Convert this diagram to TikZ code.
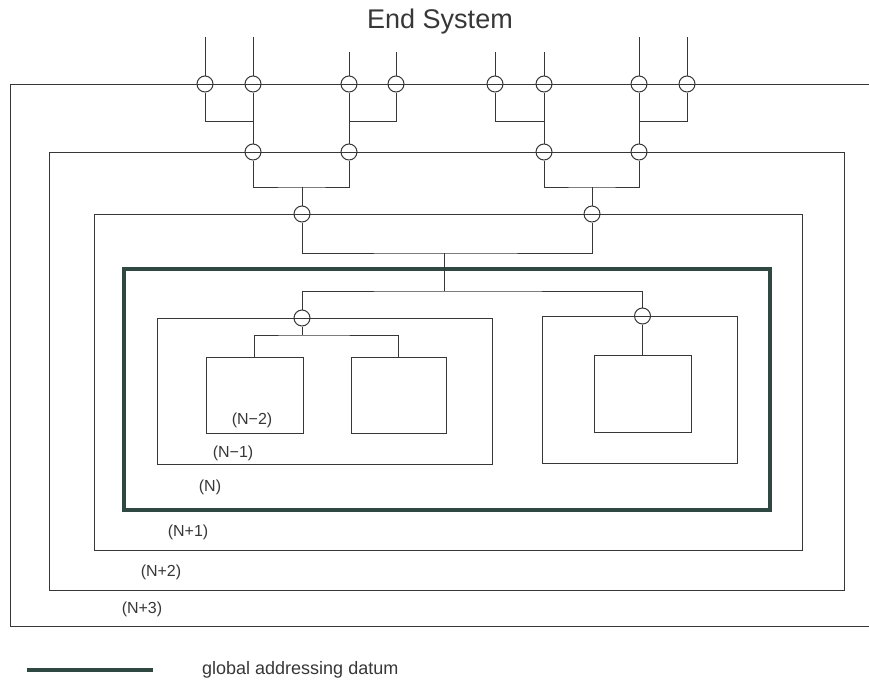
\documentclass[tikz,border=0pt]{standalone}
\usepackage{fontspec}
\setmainfont{Liberation Sans}
\usepackage{xcolor}
\usepackage{tikz}
\usetikzlibrary{positioning}

\definecolor{ink}{RGB}{55,55,55}
\definecolor{datum}{RGB}{47,72,66}

\begin{document}
\begin{tikzpicture}[
        x=1pt, y=-1pt,
        line/.style={draw=ink, line width=1pt},
        layer/.style={rectangle, draw=ink, line width=1pt, inner sep=0pt},
        global/.style={draw=datum, line width=4pt},
        port/.style={circle, draw=ink, line width=1pt, inner sep=0pt, minimum size=16pt},
        lbl/.style={font=\fontsize{16}{18}\selectfont, text=ink, inner sep=0pt},
    ]
    \useasboundingbox (0,0) rectangle (869,680);

    % === LAYERS ===
    % (N+3), open on the right
    \draw[line] (869,84) -- (10,84) -- (10,626) -- (869,626);
    \node[layer, minimum width=795, minimum height=438] (np2) at (446.5,371) {};
    \node[layer, minimum width=708, minimum height=336] (np1) at (448,382) {};
    \node[layer, draw=datum, line width=4pt, minimum width=646, minimum height=241] (nn) at (447,389.5) {};
    \node[layer, minimum width=335, minimum height=146] (nm1a) at (324.5,391) {};
    \node[layer, minimum width=195, minimum height=147] (nm1b) at (639.5,389.5) {};

    % (N-2) entities
    \node[layer, minimum width=97, minimum height=76] (ba) at (254.5,395) {};
    \node[layer, minimum width=95, minimum height=76] (bb) at (398.5,395) {};
    \node[layer, minimum width=97, minimum height=77] (bc) at (642.5,393.5) {};

    % === PORTS ===
    % top row
    \foreach \n/\x in {t1/205, t2/253, t3/349, t4/396, t5/495, t6/544, t7/639, t8/687}
        \node[port] (\n) at (\x,84) {};
    % second row
    \foreach \n/\x in {m1/253, m2/349, m3/544, m4/639}
        \node[port] (\n) at (\x,152) {};
    % third row
    \node[port] (l1) at (302,214) {};
    \node[port] (l2) at (592,214) {};
    % inside (N)
    \node[port] (n1) at (302,318) {};
    \node[port] (n2) at (642.5,316) {};

    % === JUNCTIONS ===
    \foreach \n/\x/\y in {f1/205/37, f2/253/37, f3/349/52, f4/396/52, f5/495/52, f6/544/52, f7/639/37, f8/687/37}
        \coordinate (\n) at (\x,\y);
    \coordinate (ja) at (253,121);
    \coordinate (jb) at (349,121);
    \coordinate (jc) at (544,121);
    \coordinate (jd) at (639,121);
    \coordinate (je) at (302,187);
    \coordinate (jf) at (592,187);
    \coordinate (jg) at (444,253);
    \coordinate (jh) at (444,291);
    \coordinate (ji) at (302,335);

    % === CONNECTIONS ===
    \foreach \a/\b in {f1/t1, f2/t2, f3/t3, f4/t4, f5/t5, f6/t6, f7/t7, f8/t8, t2/m1, t3/m2, t6/m3, t7/m4, je/l1, jf/l2, jg/jh, n1/ji}
        \draw[line] (\a) -- (\b);
    \foreach \a/\b in {t1/ja, t4/jb, t5/jc, t8/jd}
        \draw[line] (\a) |- (\b);
    \draw[line] (m1) |- (je) -| (m2);
    \draw[line] (m3) |- (jf) -| (m4);
    \draw[line] (l1) |- (jg) -| (l2);
    \draw[line] (n1) |- (jh) -| (n2);
    \draw[line] (ba.north) |- (ji) -| (bb.north);
    \draw[line] (n2) -- (bc.north);

    % Labels
    \node[font=\fontsize{27}{30}\selectfont, text=ink] (title) at (440,22) {End System};
    \node[lbl] (lbm2) at (252,420) {(N−2)};
    \node[lbl] (lbm1) at (233,453) {(N−1)};
    \node[lbl] (lbn) at (210,487) {(N)};
    \node[lbl] (lbp1) at (188,532) {(N+1)};
    \node[lbl] (lbp2) at (161,572) {(N+2)};
    \node[lbl] (lbp3) at (142,609) {(N+3)};

    % Legend
    \coordinate (ka) at (27,670);
    \coordinate (kb) at (153,670);
    \draw[global] (ka) -- (kb);
    \node[font=\fontsize{18}{20}\selectfont, text=ink, inner sep=0pt, anchor=west, right=49pt of kb] (legend) {global addressing datum};

\end{tikzpicture}
\end{document}
